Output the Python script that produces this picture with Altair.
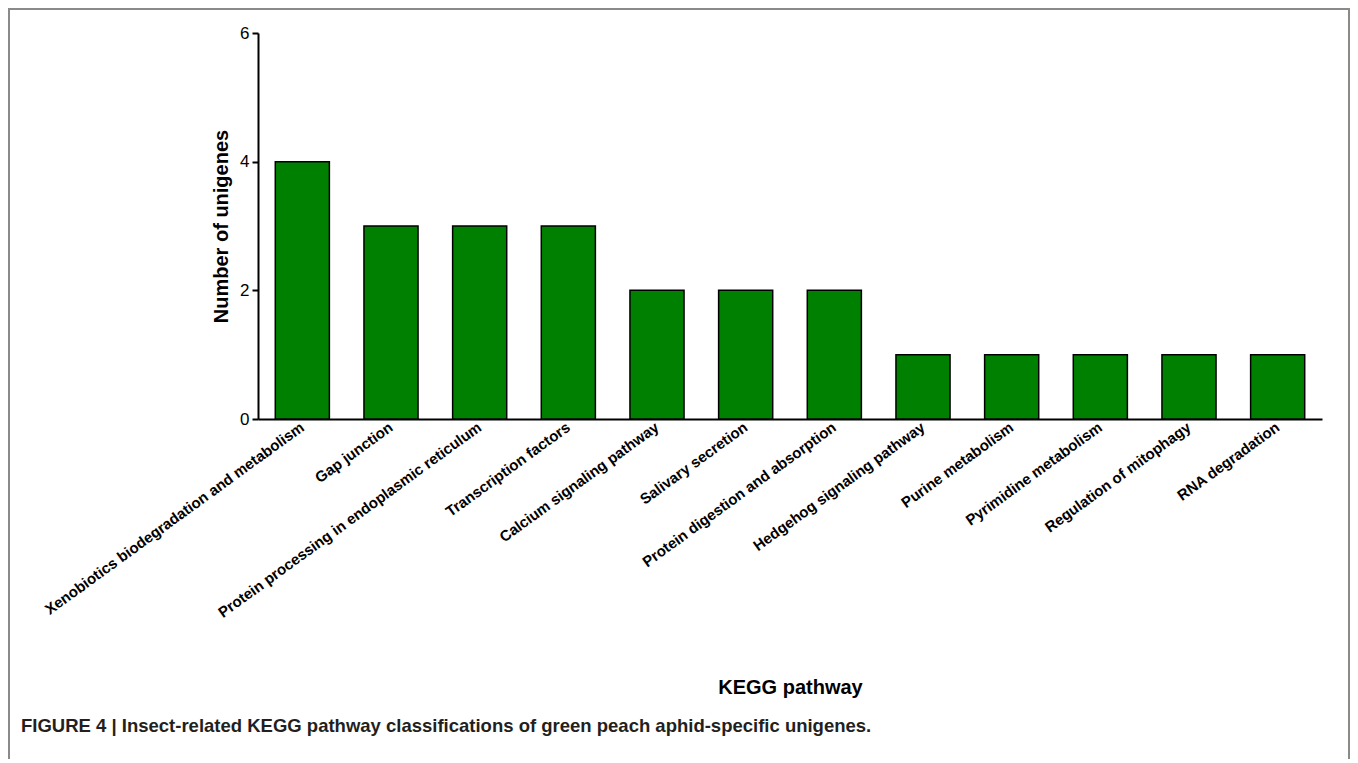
import altair as alt
import pandas as pd

categories = [
    "Xenobiotics biodegradation and metabolism",
    "Gap junction",
    "Protein processing in endoplasmic reticulum",
    "Transcription factors",
    "Calcium signaling pathway",
    "Salivary secretion",
    "Protein digestion and absorption",
    "Hedgehog signaling pathway",
    "Purine metabolism",
    "Pyrimidine metabolism",
    "Regulation of mitophagy",
    "RNA degradation",
]
counts = [4, 3, 3, 3, 2, 2, 2, 1, 1, 1, 1, 1]
y_ticks = [0, 2, 4, 6]
caption = "FIGURE 4 | Insect-related KEGG pathway classifications of green peach aphid-specific unigenes."

df = pd.DataFrame({"pathway": categories, "count": counts})

FONT = "Liberation Sans"

bars = alt.Chart(df).mark_bar(
    color="#008000", stroke="black", strokeWidth=1.5
).encode(
    x=alt.X(
        "pathway:N",
        sort=categories,
        scale=alt.Scale(paddingInner=0.39, paddingOuter=0.195),
        axis=alt.Axis(
            title="KEGG pathway",
            titleFont=FONT, titleFontSize=20, titleFontWeight="bold", titleColor="black",
            titleY=268, titleBaseline="middle",
            labelAngle=-36, labelAlign="right", labelBaseline="middle",
            labelFont=FONT, labelFontSize=15, labelFontWeight="bold", labelColor="black",
            labelPadding=6, ticks=False, domainColor="black", domainWidth=2,
            labelLimit=600,
        ),
    ),
    y=alt.Y(
        "count:Q",
        scale=alt.Scale(domain=[0, 6], nice=False),
        axis=alt.Axis(
            title="Number of unigenes", values=y_ticks, grid=False,
            titleFont=FONT, titleFontSize=20, titleFontWeight="bold", titleColor="black",
            titlePadding=8,
            labelFont=FONT, labelFontSize=17, labelColor="black", labelPadding=3,
            tickColor="black", tickWidth=2, tickSize=6,
            domainColor="black", domainWidth=2,
        ),
    ),
)

border = alt.Chart(df).mark_rect(
    fill=None, stroke="#8a8a8a", strokeWidth=2
).encode(
    x=alt.value(-249), x2=alt.value(1091), y=alt.value(-24), y2=alt.value(800)
)

cap = alt.Chart(pd.DataFrame({"t": [caption]})).mark_text(
    align="left", baseline="middle", font=FONT, fontSize=18.5, fontWeight="bold", color="#231f20"
).encode(
    text="t:N", x=alt.value(-237), y=alt.value(693)
)

chart = alt.layer(border, bars, cap).properties(
    width=1064, height=386,
    autosize=alt.AutoSizeParams(type="none"),
    padding={"left": 250, "top": 25, "right": 28, "bottom": 340},
).configure_view(stroke=None)

chart.save("out.html", embed_options={"renderer": "svg", "actions": False})
